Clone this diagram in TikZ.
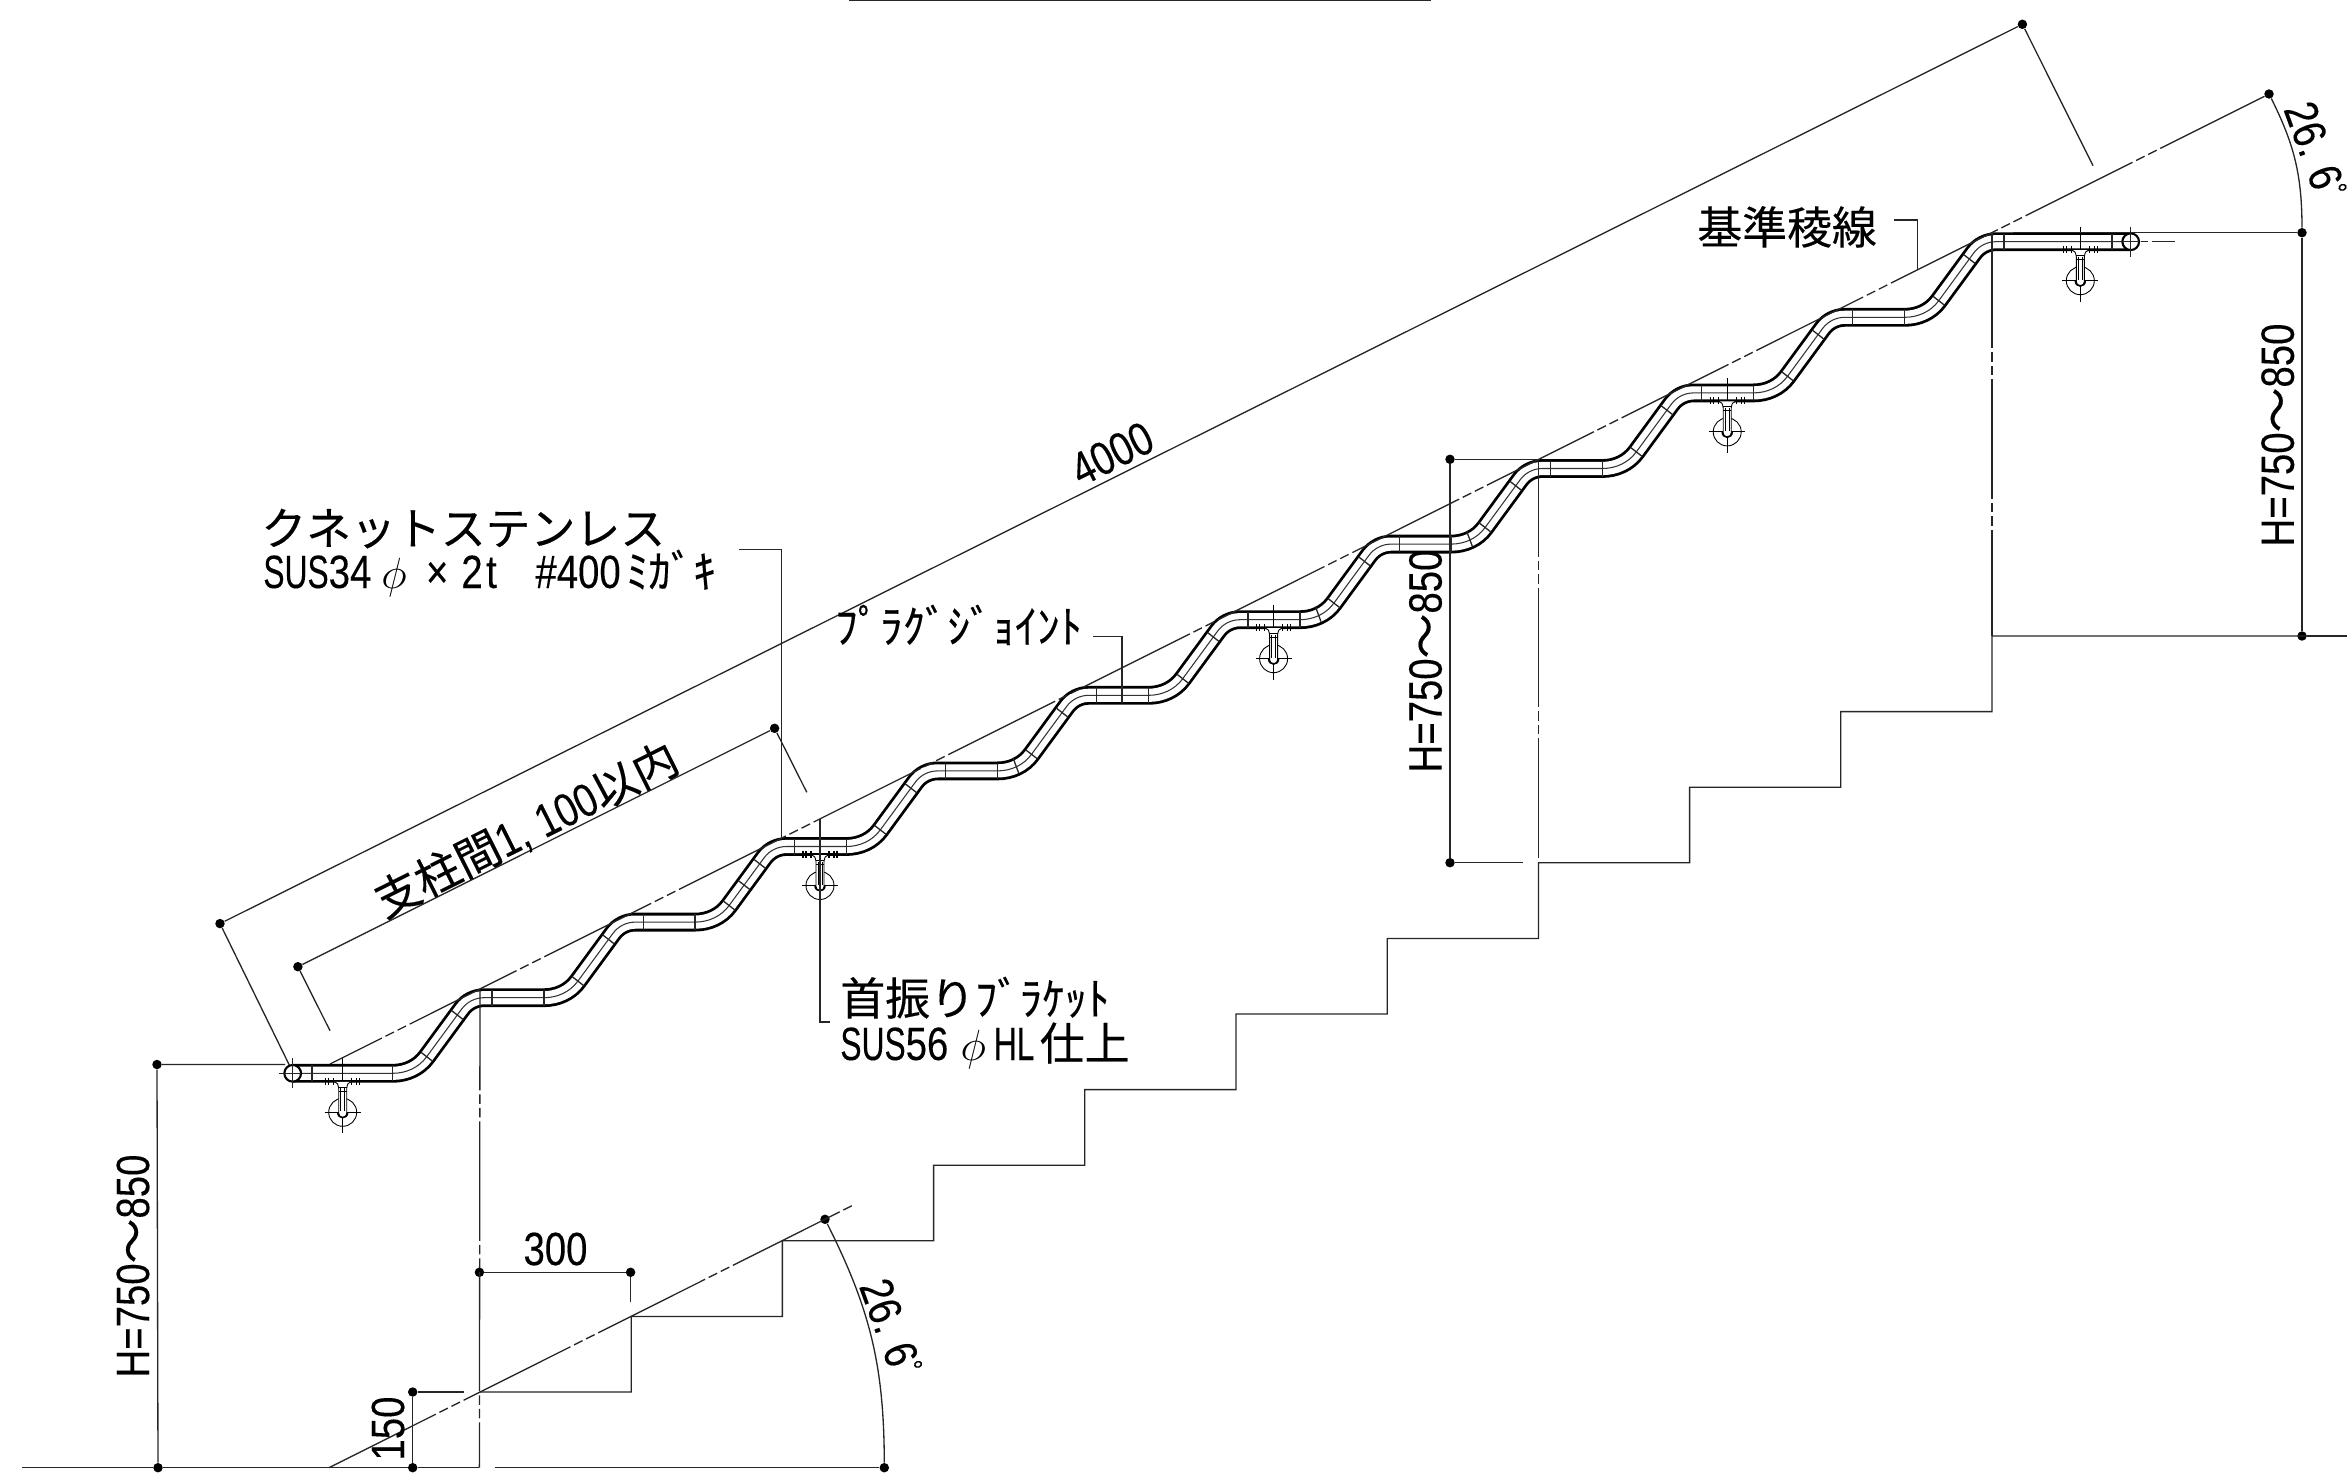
\documentclass[tikz,border=0pt]{standalone}
\usepackage{fontspec}
\setmainfont[FakeStretch=0.82,FakeBold=0.2]{Liberation Sans}
\newfontfamily\narrowfont[FakeStretch=0.68,FakeBold=0.2]{Liberation Sans}
\newfontfamily\jpfont[Scale=0.96,FakeBold=0.3]{Noto Sans CJK JP}
\usetikzlibrary{calc}

\tikzset{
    thin line/.style={line width=0.75pt, black!85},
    chain line/.style={thin line, dash pattern=on 68pt off 2.3pt on 5.4pt off 2.3pt on 5.4pt off 2.3pt},
    dim dot/.style={circle, fill=black, inner sep=0pt, minimum size=9.5pt*0.567},
    lbl/.style={inner sep=0pt, font=\fontsize{26.6}{28}\selectfont},
}
\newcommand{\angtext}{26. 6\raisebox{7pt}{\fontsize{17}{17}\selectfont °}}

\begin{document}
\begin{tikzpicture}[x=0.02cm, y=-0.02cm, line cap=butt]

    % Determines the boundries
    \path [use as bounding box] (0,0) rectangle (2347,1484);

    \def\runW{151.2}
    \def\riseH{75.6}
    \def\railpath{(292.7,1073.3) -- (392.7,1073.3)
        foreach \k in {1,...,11}{
            .. controls +(13.4,0) and +(-7.9,10.9) .. ++(34,-16.6) -- ++(30.6,-41.7) -- ++(4.4,-6)
            .. controls +(5.2,-7.1) and +(-8.8,0) .. ++(22.3,-11.3) -- ++(59.9,0)}
        -- (2130.7,241.7)}

    \draw [thin line] (849,0.8) -- (1431,0.8);

    % The handrail itself
    \draw [line width=1.6pt, double=white, double distance=7.5pt] \railpath;
    \draw [line width=0.6pt, black!80] \railpath;

    % Cuts across the rail
    \foreach \k in {-1,...,10}{
        \pgfmathsetmacro\hx{480+\k*\runW}
        \pgfmathsetmacro\hy{997.7+\k*(-\riseH)}
        \ifnum\k>-1
            \draw [thin line] (\hx+12,\hy-8) -- (\hx+12,\hy+8);
            \draw [thin line] (\hx-53.3-5.8,\hy+59-4.5) -- (\hx-53.3+5.8,\hy+59+4.5);
            \draw [thin line] (\hx-22.7-5.8,\hy+17.3-4.5) -- (\hx-22.7+5.8,\hy+17.3+4.5);
        \fi
        \ifnum\k<10
            \draw [thin line] (\hx+63.9,\hy-8) -- (\hx+63.9,\hy+8);
        \fi
    }
    \draw [thin line] (312,1065.3) -- (312,1081.3);
    \draw [thin line] (2112,233.7) -- (2112,249.7);
    % the few extra joints
    \draw [thin line] (744-5.8,885-4.5) -- (744+5.8,885+4.5);
    \foreach \k in {4,6,7}{
        \pgfmathsetmacro\hx{480+\k*\runW}
        \pgfmathsetmacro\hy{997.7+\k*(-\riseH)}
        \draw [thin line] (\hx-69-2.8,\hy+70-7.5) -- (\hx-69+2.8,\hy+70+7.5);
    }

    % Rail ends
    \foreach \ex/\ey/\en in {292.7/1073.3/railL, 2130.7/241.7/railR}{
        \node (\en) [circle, draw, line width=1.2pt, fill=white, inner sep=0pt, minimum size=9.5pt] at (\ex,\ey) {};
        \draw [thin line] (\ex,\ey-15) -- (\ex,\ey+15) (\ex-14,\ey) -- (\ex+8,\ey);
    }
    \draw [thin line] (2130.7,241.7) ++(10,0) -- ++(7.3,0) ++(3.7,0) -- ++(23.3,0);

    % Brackets
    \foreach \bx/\by in {342.7/1073.3, 820/846.5, 1273.6/619.7, 1727.2/392.9, 2080.3/241.7}{
        \begin{scope}[shift={(\bx,\by)}, line width=0.5pt]
            \draw (0,-15) -- (0,60) (-18,39) -- (18,39);
            \draw (0,39) circle [radius=14];
            \draw [line width=1.3pt] (-17,8) -- (17,8);
            \foreach \t in {-17,-14,-9,9,14,17}{
                \draw [line width=0.8pt] (\t,4.5) -- (\t,11.5);
            }
            \draw [fill=white] (-8,8.5) .. controls (-5,10) .. (-4,15) -- (-4,40)
                .. controls (-4,46) and (4,46) .. (4,40) -- (4,15) .. controls (5,10) .. (8,8.5);
            \draw (-2,15) -- (-2,38) (2,15) -- (2,38) (-4,14) -- (4,14) (-4,18) -- (4,18);
            \draw [line width=0.9pt] (-5,39) .. controls (-5,46) and (5,46) .. (5,39);
        \end{scope}
    }

    % Reference line and the dimension dots
    \node (refTop) [dim dot] at (2269,94) {};
    \coordinate (refLow) at (330,1064);
    \draw [chain line, dash phase=35pt] (refLow) -- (refTop);

    \node (gndA) [dim dot] at (158,1467.7) {};
    \node (gndB) [dim dot] at (412.7,1467.7) {};
    \node (gndC) [dim dot] at (884.3,1467.7) {};
    \node (footT) [dim dot] at (825,1219.3) {};
    \node (railH) [dim dot] at (157,1064.5) {};
    \node (topH) [dim dot] at (2302,232.7) {};
    \node (topL) [dim dot] at (2302,636) {};
    \node (midH) [dim dot] at (1450,459.3) {};
    \node (midL) [dim dot] at (1450,862.7) {};
    \node (runA) [dim dot] at (479.4,1272.3) {};
    \node (runB) [dim dot] at (630.6,1272.3) {};
    \node (riseT) [dim dot] at (412.7,1392) {};
    \node (longA) [dim dot] at (220,923.6) {};
    \node (longB) [dim dot] at (2022.4,24.3) {};
    \node (spanA) [dim dot] at (297.9,966.7) {};
    \node (spanB) [dim dot] at (774.6,728.3) {};

    % Ground, stairs and the centre lines of the posts
    \coordinate (gndL) at (22,1467.7);
    \coordinate (gndM) at (479.4,1467.7);
    \coordinate (gndR) at (494.6,1467.7);
    \coordinate (footO) at (329,1467.7);
    \coordinate (footE) at (852,1205.7);
    \draw [thin line] (gndL) -- (gndA) -- (gndB) -- (gndM) (gndR) -- (gndC);
    \draw [thin line] (480,1392) foreach \k in {1,...,10}{ -- ++(\runW,0) -- ++(0,-\riseH)} -- (2347,636);
    \draw [chain line] (footO) -- (footE);
    \draw [chain line, dash phase=19pt*0.567] (480,989.7) -- (gndM);
    \draw [chain line, dash phase=23pt*0.567] (1538.4,460) -- (1538.4,938);
    \draw [chain line, dash phase=4pt*0.567] (1992,232.7) -- (1992,636);

    % Dimensions
    \draw [thin line] (railH) -- (285,1064.5) (railH) -- (gndA);
    \draw [thin line] (2013,232.7) -- (topH) -- (topL) -- (2347,636);
    \draw [thin line] (midH) -- (1538.4,459.3) (midH) -- (midL) -- (1523,862.7) (1538.4,862.7) -- (1689,862.7);
    \draw [thin line] (runA) -- (runB) -- (630.6,1302);
    \draw [thin line] (riseT) -- (gndB) (riseT) -- (464,1392);
    \draw [thin line] (longA) -- (longB) -- (2093,165.7) (longA) -- (289.3,1065);
    \draw [thin line] (spanA) -- (spanB) -- (806.8,792.3) (spanA) -- (330,1030.7);
    \draw [thin line] (topH) to [bend right=13.3] (refTop);
    \draw [thin line] (gndC) to [bend right=13.3] (footT);

    % Leaders
    \draw [thin line] (739,549.3) -- (781.8,549.3) -- (781.8,838);
    \draw [thin line] (1093,636.7) -- (1122,636.7) -- (1122,703);
    \draw [thin line] (820,819.3) -- (820,1022) -- (830,1022);
    \draw [thin line] (1894,220) -- (1917.3,220) -- (1917.3,269);

    % Labels
    \node (lblSteel) [lbl, anchor=base west] at (261,545) {\jpfont クネットステンレス};
    \node (lblSus) [lbl, anchor=base west] at (263,588) {{\narrowfont SUS}34\hspace{5.7pt}$\phi$\hspace{11pt}×\hspace{7.4pt}2\hspace{2pt}t\hspace{22pt}\#400\hspace{3pt}{\jpfont ﾐｶﾞｷ}};
    \node (lblPlug) [lbl, anchor=base west] at (835,643) {\jpfont ﾌﾟﾗｸﾞｼﾞｮｲﾝﾄ};
    \node (lblBrk) [lbl, anchor=base west] at (840,1015) {\jpfont 首振りﾌﾞﾗｹｯﾄ};
    \node (lblBrkSus) [lbl, anchor=base west] at (840,1060) {{\narrowfont SUS}56\hspace{7pt}$\phi$\hspace{4.5pt}{\narrowfont HL}\hspace{3pt}{\jpfont 仕上}};
    \node (lblEdge) [lbl, anchor=base west] at (1697,244) {\jpfont 基準稜線};

    \node (lblLong) [lbl, rotate=26.6] at (1112,453.6) {4000};
    \node (lblSpan) [lbl, rotate=26.6] at (526.5,830) {{\jpfont 支柱間}1,\hspace{7pt}100{\jpfont 以内}};
    \node (lblHa) [lbl, rotate=90] at (133,1266) {H=750{\jpfont ～}850};
    \node (lblHb) [lbl, rotate=90] at (2277.7,435) {H=750{\jpfont ～}850};
    \node (lblHc) [lbl, rotate=90] at (1425.5,661) {H=750{\jpfont ～}850};
    \node (lblRun) [lbl] at (555.5,1249) {300};
    \node (lblRise) [lbl, rotate=90] at (388,1428.5) {150};
    \node (lblAngB) [lbl, rotate=-70] at (891,1327) {\angtext};
    \node (lblAngT) [lbl, rotate=-70] at (2315.5,150) {\angtext};

\end{tikzpicture}
\end{document}
